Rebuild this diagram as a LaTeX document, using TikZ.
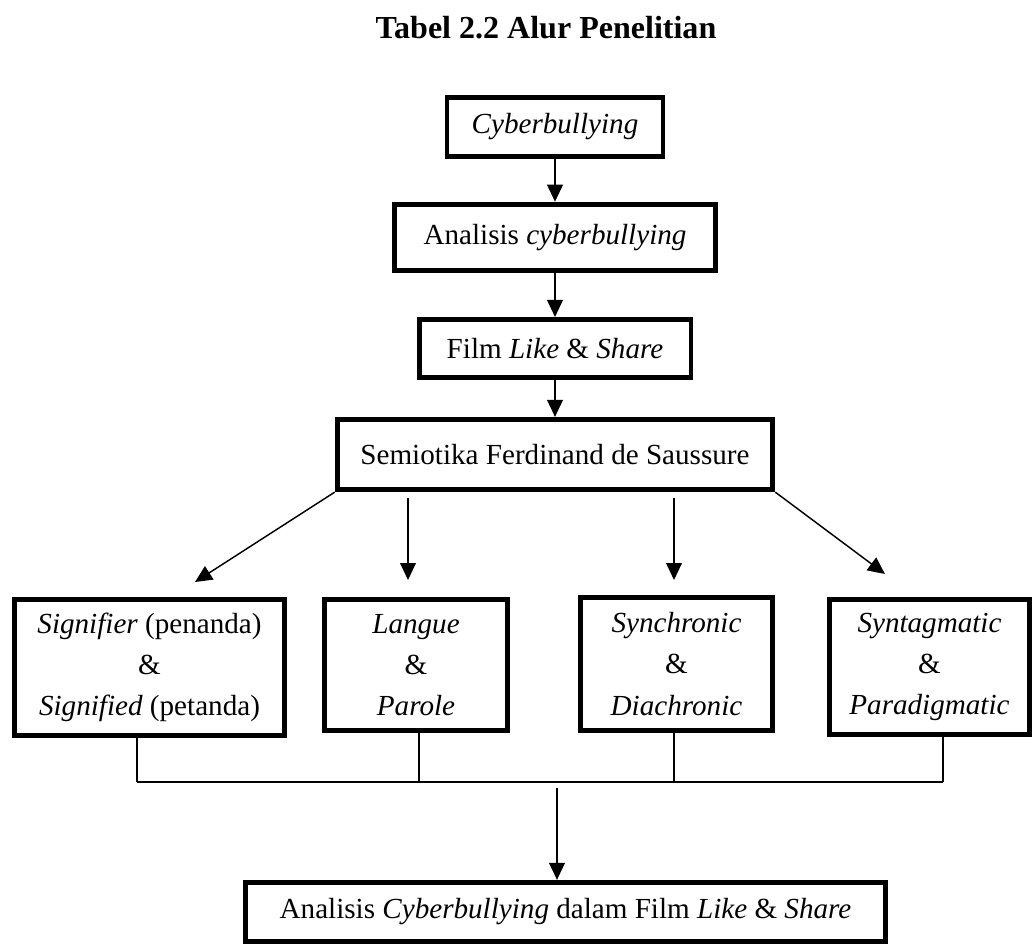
\documentclass[tikz,border=0pt]{standalone}
\usepackage{fontspec}
\setmainfont{Liberation Serif}
\usetikzlibrary{arrows.meta}
\tikzset{
  box/.style={draw, line width=2pt, fill=white, align=center, inner sep=0pt},
  conn/.style={line width=0.6pt},
  arr/.style={conn, -{Triangle[length=7pt,width=6.5pt]}},
}
\begin{document}
\begin{tikzpicture}[x=0.412pt, y=-0.412pt, font=\fontsize{12}{15}\selectfont]
    \useasboundingbox (0,0) rectangle (1035,945);

    % Title
    \node[font=\bfseries\fontsize{13.2}{15}\selectfont] (title) at (546,28) {Tabel 2.2 Alur Penelitian};

    % Main column
    \node[box, minimum width=89pt, minimum height=24.5pt] (cyber) at (555,127) {\textit{Cyberbullying}};
    \node[box, minimum width=132pt, minimum height=27.5pt] (analisis) at (555,237.5) {Analisis \textit{cyberbullying}};
    \node[box, minimum width=112pt, minimum height=24pt] (film) at (555,348.5) {Film \textit{Like} \& \textit{Share}};
    \node[box, minimum width=179.5pt, minimum height=29pt] (semiotika) at (555,454.5) {Semiotika Ferdinand de Saussure};

    % Four concepts
    \node[box, minimum width=111.5pt, minimum height=56pt, font=\fontsize{12}{17}\selectfont] (sig) at (149.5,667.5) {\textit{Signifier} (penanda)\\\&\\\textit{Signified} (petanda)};
    \node[box, minimum width=75.5pt, minimum height=54pt, font=\fontsize{12}{17}\selectfont] (langue) at (416,665) {\textit{Langue}\\\&\\\textit{Parole}};
    \node[box, minimum width=79pt, minimum height=55pt, font=\fontsize{12}{17}\selectfont] (sync) at (676.5,664) {\textit{Synchronic}\\\&\\\textit{Diachronic}};
    \node[box, minimum width=82.5pt, minimum height=55.5pt, font=\fontsize{12}{17}\selectfont] (synt) at (929.5,667) {\textit{Syntagmatic}\\\&\\\textit{Paradigmatic}};

    % Result
    \node[box, minimum width=263.5pt, minimum height=24.5pt] (hasil) at (565.5,912) {Analisis \textit{Cyberbullying} dalam Film \textit{Like} \& \textit{Share}};

    % Arrows down the column
    \draw[arr] (cyber.south) -- (analisis.north);
    \draw[arr] (analisis.south) -- (film.north);
    \draw[arr] (film.south) -- (semiotika.north);

    % Arrows to the four concepts
    \coordinate (tip1) at (195,582);
    \coordinate (tip2) at (408,580);
    \coordinate (tip3) at (674,580);
    \coordinate (tip4) at (885,574);
    \draw[arr] (semiotika.south west) -- (tip1);
    \draw[arr, shorten <=2.5pt] (semiotika.south -| tip2) -- (tip2);
    \draw[arr, shorten <=2.5pt] (semiotika.south -| tip3) -- (tip3);
    \draw[arr] (semiotika.south east) -- (tip4);

    % Joining line
    \coordinate (bus1) at (137,782);
    \coordinate (bus2) at (419,782);
    \coordinate (bus3) at (674,782);
    \coordinate (bus4) at (943,782);
    \draw[conn] (bus1) -- (bus4);
    \draw[conn] (bus1 |- sig.south) -- (bus1);
    \draw[conn] (bus2 |- langue.south) -- (bus2);
    \draw[conn] (bus3 |- sync.south) -- (bus3);
    \draw[conn] (bus4 |- synt.south) -- (bus4);

    % To the result
    \coordinate (busout) at (557,788);
    \draw[arr] (busout) -- (busout |- hasil.north);
\end{tikzpicture}
\end{document}
